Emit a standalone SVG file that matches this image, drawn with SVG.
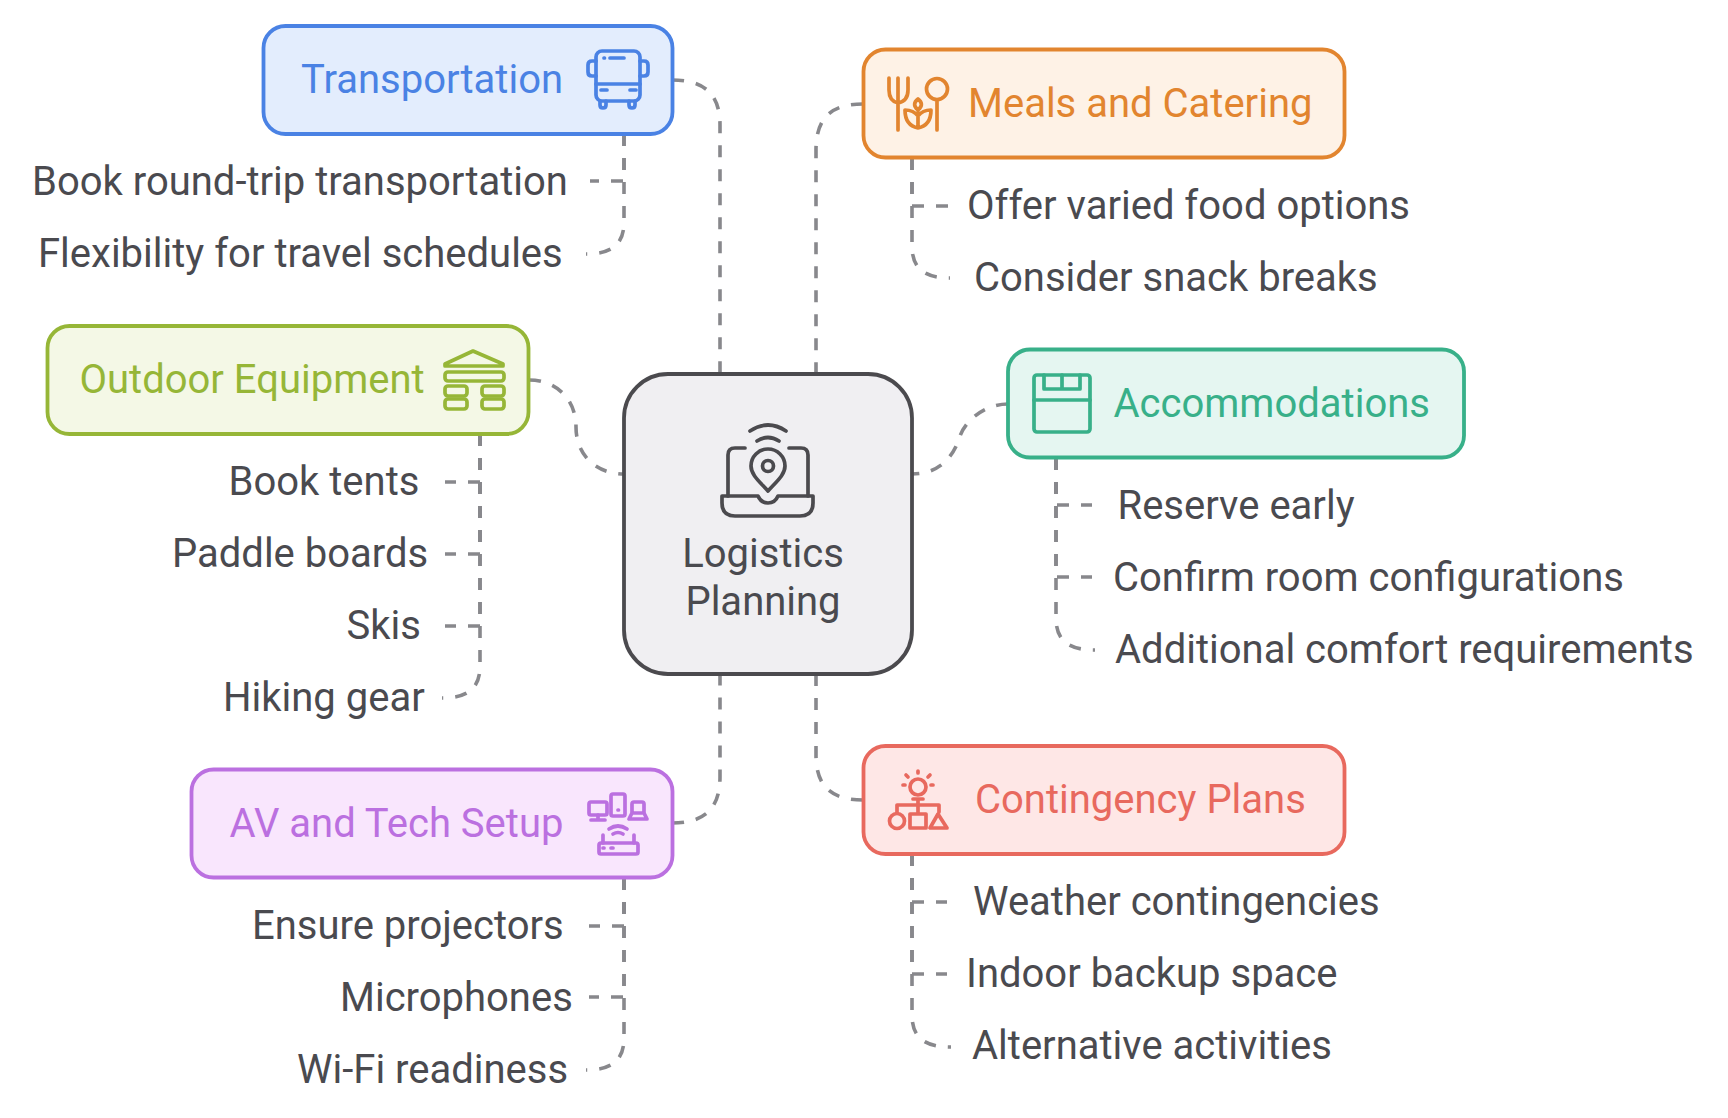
<svg xmlns="http://www.w3.org/2000/svg" width="1728" height="1118" viewBox="0 0 1728 1118">
<style>
text{font-family:Roboto,"Liberation Sans",sans-serif;font-size:40px;fill:#4a4a4f}
.c{fill:none;stroke:#88888c;stroke-width:3.6;stroke-dasharray:12 12}
.n{stroke-width:3.8}
.i{fill:none;stroke-width:3.7;stroke-linecap:round;stroke-linejoin:round}
.blue .n{fill:#e3edfd;stroke:#4a82e4}.blue text{fill:#4a82e4}.blue .i{stroke:#4a82e4}
.orange .n{fill:#fef2e6;stroke:#e2852f}.orange text{fill:#e2852f}.orange .i{stroke:#e2852f}
.green .n{fill:#f4f8e6;stroke:#96b637}.green text{fill:#96b637}.green .i{stroke:#96b637}
.teal .n{fill:#e5f6f1;stroke:#38b089}.teal text{fill:#38b089}.teal .i{stroke:#38b089}
.purple .n{fill:#f9e6fd;stroke:#bb70e0}.purple text{fill:#bb70e0}.purple .i{stroke:#bb70e0}
.red .n{fill:#fee7e6;stroke:#e8695e}.red text{fill:#e8695e}.red .i{stroke:#e8695e}
.gray .n{fill:#f0eff2;stroke:#4b4a4e}.gray .i{stroke:#4b4a4e}
</style>
<rect width="1728" height="1118" fill="#fff"/>
<g id="connectors">
<path class="c" d="M672 80C702 80 720 92 720 125V376"/>
<path class="c" d="M863 104C833 104 816 116 816 150V376"/>
<path class="c" d="M529 380C555 380 576 398 576 427C576 456 597 474 624 474"/>
<path class="c" d="M1008 404C985 404 966 420 960 436C954 456 940 474 912 474"/>
<path class="c" d="M672 823C702 823 720 811 720 777V672"/>
<path class="c" d="M863 800C833 800 816 788 816 755V672"/>
<path class="c" d="M624 134V181H590"/>
<path class="c" d="M624 134V222C624 245 611 254 586 254"/>
<path class="c" d="M912 158V206H948"/>
<path class="c" d="M912 158V246C912 269 925 278 950 278"/>
<path class="c" d="M480 434V482H445"/>
<path class="c" d="M480 434V554H445"/>
<path class="c" d="M480 434V626H445"/>
<path class="c" d="M480 434V666C480 689 467 698 442 698"/>
<path class="c" d="M1056 458V505H1092"/>
<path class="c" d="M1056 458V577H1092"/>
<path class="c" d="M1056 458V618C1056 641 1069 650 1095 650"/>
<path class="c" d="M912 854V902H947"/>
<path class="c" d="M912 854V974H947"/>
<path class="c" d="M912 854V1015C912 1038 925 1047 951 1047"/>
<path class="c" d="M624 878V926H589"/>
<path class="c" d="M624 878V997H589"/>
<path class="c" d="M624 878V1038C624 1061 611 1070 586 1070"/>
</g>
<g id="center" class="gray">
<rect class="n" x="624" y="374" width="288" height="300" rx="44"/>
<g class="i"><path d="M745 448H735Q728 448 728 455V496M789 448H801Q808 448 808 455V496"/><path d="M722 496H758Q761 503 768 503Q775 503 778 496H813V503Q813 516 800 516H735Q722 516 722 503Z"/><path d="M768 491C760 482 751 475 751 466A17 17 0 0 1 785 466C785 475 776 482 768 491Z"/><circle cx="768" cy="466" r="5.500"/><path d="M757 441Q768 434 779 441M750 431Q768 419 786 431"/></g>
<text x="763" y="567" text-anchor="middle">Logistics</text><text x="763" y="615" text-anchor="middle">Planning</text>
</g>
<g id="transportation" class="blue">
<rect class="n" x="263.500" y="26" width="409" height="108" rx="22"/>
<text x="301" y="93">Transportation</text>
<g class="i"><rect x="596" y="51" width="44" height="50" rx="6"/><path d="M596 84H640M596 76H592Q588 76 588 72V65Q588 61 592 61H596M640 76H644Q648 76 648 72V65Q648 61 644 61H640M600 101V105Q600 108 603 108Q606 108 606 105V101M629 101V105Q629 108 632 108Q635 108 635 105V101M610 58H624M604 58H604.500M601 90H607M630 90H636"/></g>
</g>
<g id="transportation-items"><text x="32" y="195">Book round-trip transportation</text><text x="38" y="267">Flexibility for travel schedules</text></g>
<g id="meals" class="orange">
<rect class="n" x="863.500" y="49.500" width="481" height="108" rx="22"/>
<text x="968" y="117">Meals and Catering</text>
<g class="i"><path d="M889 78V90Q889 101 898 103V130M898 78V100M908 78V90Q908 101 898 103"/><circle cx="937" cy="89" r="10.500"/><path d="M937 100V130M918 128V112M918 128C908 126 905 118 905 110C911 110 915 112 918 116C921 112 925 110 931 110C931 118 928 126 918 128ZM918 110C913 106 914 102 918 99C922 102 923 106 918 110Z"/></g>
</g>
<g id="meals-items"><text x="967" y="219">Offer varied food options</text><text x="974" y="291">Consider snack breaks</text></g>
<g id="outdoor" class="green">
<rect class="n" x="47.500" y="326" width="481" height="108" rx="22"/>
<text x="79.500" y="393">Outdoor Equipment</text>
<g class="i"><path d="M445 364L473 351L503 364V366H445Z"/><rect x="445" y="372" width="59" height="9" rx="3"/><rect x="445" y="386" width="22" height="10" rx="3"/><rect x="445" y="399" width="22" height="10" rx="3"/><rect x="482" y="386" width="22" height="10" rx="3"/><rect x="482" y="399" width="22" height="10" rx="3"/></g>
</g>
<g id="outdoor-items"><text x="228.500" y="495">Book tents</text><text x="172" y="567">Paddle boards</text><text x="346.500" y="639">Skis</text><text x="223" y="711">Hiking gear</text></g>
<g id="accommodations" class="teal">
<rect class="n" x="1008" y="349.500" width="456" height="108" rx="22"/>
<text x="1113.500" y="417">Accommodations</text>
<g class="i"><rect x="1034" y="375" width="56" height="57" rx="3"/><path d="M1034 400H1090M1044 375V389H1080V375M1062 375V389"/></g>
</g>
<g id="accommodations-items"><text x="1117.500" y="519">Reserve early</text><text x="1113" y="591">Confirm room configurations</text><text x="1115" y="663">Additional comfort requirements</text></g>
<g id="av" class="purple">
<rect class="n" x="191.500" y="769.500" width="481" height="108" rx="22"/>
<text x="229.500" y="837">AV and Tech Setup</text>
<g class="i"><rect x="589" y="802" width="18" height="13" rx="2"/><path d="M598 815V820M591 820H605"/><rect x="611" y="794" width="14" height="22" rx="2"/><path d="M618 810H618.500"/><rect x="632" y="802" width="12" height="11" rx="2"/><path d="M632 813L629 819H647L644 813"/><path d="M609 829Q618 823 627 829M613 834Q618 831 623 834"/><rect x="599" y="843" width="39" height="11" rx="2"/><path d="M603 843V835M634 843V835M603 848H604M611 848H613"/></g>
</g>
<g id="av-items"><text x="252" y="939">Ensure projectors</text><text x="340" y="1011">Microphones</text><text x="297" y="1083">Wi-Fi readiness</text></g>
<g id="contingency" class="red">
<rect class="n" x="863.500" y="746" width="481" height="108" rx="22"/>
<text x="975" y="813">Contingency Plans</text>
<g class="i"><circle cx="918" cy="787" r="8"/><path d="M913 799H923M918 799V813M897 812V805H939V812M918 771V773M906 775L908 777M930 775L928 777M903 785H905M931 785H933"/><circle cx="897" cy="821" r="7.500"/><rect x="910" y="814" width="16" height="14"/><path d="M938 814L930 828H947Z"/></g>
</g>
<g id="contingency-items"><text x="973" y="915">Weather contingencies</text><text x="966" y="987">Indoor backup space</text><text x="972" y="1059">Alternative activities</text></g>
</svg>
